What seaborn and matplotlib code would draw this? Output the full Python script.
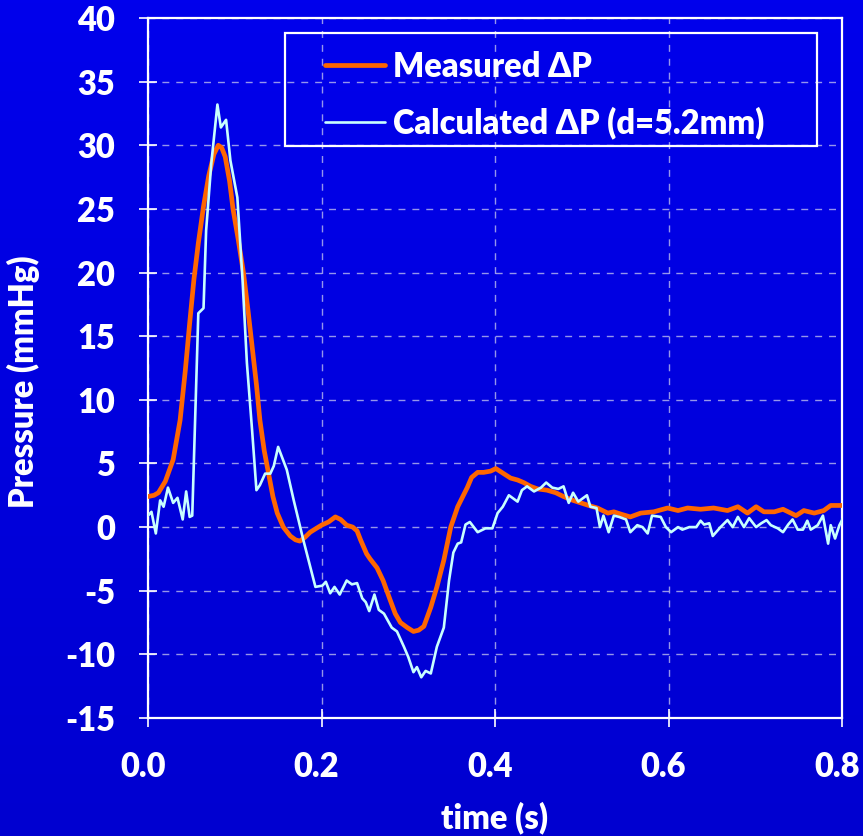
import numpy as np
import pandas as pd
import matplotlib
matplotlib.use("Agg")
import matplotlib.pyplot as plt
import matplotlib.transforms as mtransforms
from matplotlib.patches import Rectangle
import seaborn as sns

# Measured pressure drop (mmHg) over one cycle
measured_t = [0.000, 0.007, 0.012, 0.020, 0.029, 0.037, 0.043, 0.048, 0.053, 0.058,
              0.064, 0.070, 0.076, 0.081, 0.085, 0.089, 0.094, 0.098, 0.104, 0.110,
              0.115, 0.120, 0.125, 0.129, 0.134, 0.139, 0.144, 0.149, 0.156, 0.164,
              0.170, 0.175, 0.181, 0.187, 0.194, 0.200, 0.208, 0.216, 0.222, 0.229,
              0.236, 0.241, 0.245, 0.252, 0.256, 0.264, 0.271, 0.279, 0.285, 0.291,
              0.299, 0.306, 0.312, 0.318, 0.326, 0.333, 0.341, 0.349, 0.357, 0.368,
              0.373, 0.380, 0.387, 0.395, 0.401, 0.410, 0.418, 0.426, 0.433, 0.441,
              0.449, 0.460, 0.470, 0.479, 0.490, 0.499, 0.508, 0.518, 0.530, 0.537,
              0.546, 0.556, 0.568, 0.583, 0.599, 0.611, 0.622, 0.637, 0.652, 0.668,
              0.680, 0.691, 0.701, 0.710, 0.722, 0.732, 0.747, 0.756, 0.768, 0.779,
              0.787, 0.800]
measured_p = [2.4, 2.5, 2.7, 3.6, 5.3, 8.4, 12.3, 16.0, 19.5, 22.3,
              25.2, 27.6, 29.3, 30.0, 29.8, 29.1, 27.2, 25.0, 22.6, 20.0,
              17.2, 14.2, 11.2, 8.4, 6.0, 4.2, 2.4, 1.1, 0.0, -0.7,
              -1.0, -1.1, -0.8, -0.4, -0.1, 0.15, 0.4, 0.8, 0.6, 0.15,
              0.0, -0.3, -1.0, -2.1, -2.5, -3.2, -4.2, -5.7, -6.8, -7.5,
              -7.9, -8.2, -8.1, -7.8, -6.3, -4.7, -2.6, 0.0, 1.6, 3.1,
              3.9, 4.3, 4.3, 4.4, 4.6, 4.2, 3.85, 3.7, 3.5, 3.2,
              3.0, 2.9, 2.7, 2.4, 2.1, 1.9, 1.7, 1.5, 1.1, 1.2,
              1.0, 0.8, 1.1, 1.2, 1.5, 1.3, 1.5, 1.4, 1.5, 1.3,
              1.6, 1.1, 1.6, 1.2, 1.2, 1.4, 0.9, 1.3, 1.1, 1.3,
              1.7, 1.7]

# Pressure drop calculated for a 5.2 mm diameter
calc_t = [0.000, 0.004, 0.009, 0.014, 0.018, 0.023, 0.029, 0.034, 0.040, 0.044,
          0.048, 0.051, 0.058, 0.064, 0.067, 0.073, 0.080, 0.084, 0.090, 0.095,
          0.103, 0.109, 0.114, 0.120, 0.125, 0.129, 0.135, 0.141, 0.145, 0.150,
          0.160, 0.168, 0.179, 0.193, 0.201, 0.205, 0.210, 0.215, 0.221, 0.229,
          0.235, 0.241, 0.247, 0.251, 0.255, 0.261, 0.266, 0.272, 0.281, 0.287,
          0.295, 0.300, 0.306, 0.310, 0.315, 0.320, 0.326, 0.333, 0.341, 0.347,
          0.352, 0.357, 0.361, 0.366, 0.371, 0.380, 0.389, 0.397, 0.403, 0.409,
          0.416, 0.426, 0.431, 0.437, 0.445, 0.453, 0.459, 0.466, 0.473, 0.479,
          0.485, 0.490, 0.496, 0.506, 0.510, 0.517, 0.521, 0.525, 0.531, 0.537,
          0.543, 0.551, 0.556, 0.564, 0.570, 0.576, 0.581, 0.591, 0.597, 0.603,
          0.611, 0.616, 0.624, 0.632, 0.637, 0.641, 0.647, 0.651, 0.660, 0.668,
          0.674, 0.680, 0.687, 0.693, 0.701, 0.707, 0.713, 0.718, 0.726, 0.732,
          0.738, 0.743, 0.749, 0.755, 0.760, 0.764, 0.772, 0.778, 0.784, 0.787,
          0.792, 0.797, 0.802]
calc_p = [0.9, 1.2, -0.5, 2.1, 1.6, 3.1, 1.9, 2.3, 0.6, 2.8,
          0.8, 0.9, 16.8, 17.2, 23.3, 28.6, 33.2, 31.4, 32.0, 28.8,
          25.9, 19.4, 12.9, 7.6, 2.9, 3.3, 4.2, 4.2, 4.8, 6.3,
          4.5, 2.1, -1.0, -4.7, -4.6, -4.3, -5.2, -4.7, -5.3, -4.2,
          -4.5, -4.4, -5.6, -5.9, -6.6, -5.3, -6.5, -6.8, -7.9, -8.2,
          -9.4, -10.2, -11.4, -11.0, -11.8, -11.3, -11.5, -9.4, -7.9, -4.2,
          -2.0, -1.3, -1.2, 0.2, 0.4, -0.4, -0.1, -0.1, 1.1, 1.6,
          2.5, 2.0, 2.9, 3.2, 2.8, 3.1, 3.5, 3.1, 3.0, 3.2,
          1.9, 2.7, 2.0, 2.5, 1.6, 1.5, 0.0, 0.9, -0.4, 0.9,
          0.8, 0.6, -0.4, 0.15, 0.0, -0.5, 0.9, 0.8, 0.0, -0.4,
          0.0, -0.2, 0.0, 0.0, 0.5, 0.2, 0.3, -0.7, 0.0, 0.55,
          0.0, 0.8, 0.0, 0.7, 0.0, 0.3, 0.55, 0.15, -0.1, -0.4,
          0.2, 0.6, -0.2, -0.2, 0.5, -0.2, 0.15, 0.9, -1.3, 0.15,
          -0.9, 0.15, 0.8]

series_names = ["Measured \u0394P", "Calculated \u0394P (d=5.2mm)"]
x_ticks = [0.0, 0.2, 0.4, 0.6, 0.8]
x_tick_labels = ["0.0", "0.2", "0.4", "0.6", "0.8"]
y_ticks = [-15, -10, -5, 0, 5, 10, 15, 20, 25, 30, 35, 40]
y_tick_labels = ["-15", "-10", "-5", "0", "5", "10", "15", "20", "25", "30", "35", "40"]

measured = pd.DataFrame({"t": measured_t, "p": measured_p})
calculated = pd.DataFrame({"t": calc_t, "p": calc_p})

sns.set_theme(style="ticks")
plt.rcParams["font.family"] = ["Lato", "DejaVu Sans"]
plt.rcParams["font.weight"] = "heavy"

FG = "white"
ORANGE = "#FF6600"
CYAN = "#C8FFFF"
FS = 23.5

fig = plt.figure(figsize=(8.63, 8.36), dpi=100)

# vertical blue gradient behind everything
bg = fig.add_axes([0, 0, 1, 1], zorder=-10)
grad = np.linspace(0, 1, 256).reshape(-1, 1)
top_c = np.array([0x00, 0x00, 0xEC]) / 255
bot_c = np.array([0x00, 0x00, 0xD0]) / 255
img = top_c + (bot_c - top_c) * grad[:, :, None]
bg.imshow(img, aspect="auto", extent=[0, 1, 0, 1])
bg.set_axis_off()

ax = fig.add_axes([148 / 863, 1 - 718 / 836, 694 / 863, 700 / 836])
ax.set_facecolor("none")

sns.lineplot(data=measured, x="t", y="p", ax=ax, color=ORANGE, linewidth=3.4,
             sort=False, estimator=None, label=series_names[0], zorder=3)
sns.lineplot(data=calculated, x="t", y="p", ax=ax, color=CYAN, linewidth=1.9,
             sort=False, estimator=None, label=series_names[1], zorder=4)

ax.set_xlim(0, 0.8)
ax.set_ylim(-15, 40)
ax.set_xticks(x_ticks)
ax.set_xticklabels(x_tick_labels)
ax.set_yticks(y_ticks)
ax.set_yticklabels(y_tick_labels)

ax.grid(True, color="#C8C8F0", alpha=0.75, linestyle=(0, (5, 5)), linewidth=1.0)
ax.set_axisbelow(True)

for side in ["left", "bottom", "top", "right"]:
    ax.spines[side].set_color(FG)
    ax.spines[side].set_linewidth(1.6)
    ax.spines[side].set_visible(True)

ax.tick_params(axis="both", colors=FG, direction="inout", length=13, width=1.2,
               labelsize=FS)
ax.tick_params(axis="y", pad=17)
ax.tick_params(axis="x", pad=17)

# x tick labels sit a few pixels left of their ticks
shift = mtransforms.ScaledTranslation(-0.05, 0, fig.dpi_scale_trans)
for lbl in ax.get_xticklabels():
    lbl.set_transform(lbl.get_transform() + shift)
for lbl in ax.get_xticklabels() + ax.get_yticklabels():
    lbl.set_fontweight("heavy")

ax.set_xlabel("time (s)", color=FG, fontsize=FS, fontweight="heavy")
ax.set_ylabel("Pressure (mmHg)", color=FG, fontsize=FS, fontweight="heavy")
ax.xaxis.set_label_coords(0.5, -0.12)
ax.yaxis.set_label_coords(-0.156, 0.48)

# legend entries without their own frame, boxed by a separate outline
leg = ax.legend(loc="upper left", bbox_to_anchor=(0.255, 0.953), borderaxespad=0,
                borderpad=0, fontsize=FS, frameon=False, handlelength=1.85,
                handletextpad=0.22, labelspacing=0.72)
for txt in leg.get_texts():
    txt.set_color(FG)
    txt.set_fontweight("heavy")
for h in leg.get_lines():
    h.set_solid_capstyle("round")

ax.add_patch(Rectangle((0.197, 0.817), 0.767, 0.162, transform=ax.transAxes,
                       facecolor="none", edgecolor=FG, linewidth=1.6, zorder=5))

fig.savefig("out.png", dpi=100)
